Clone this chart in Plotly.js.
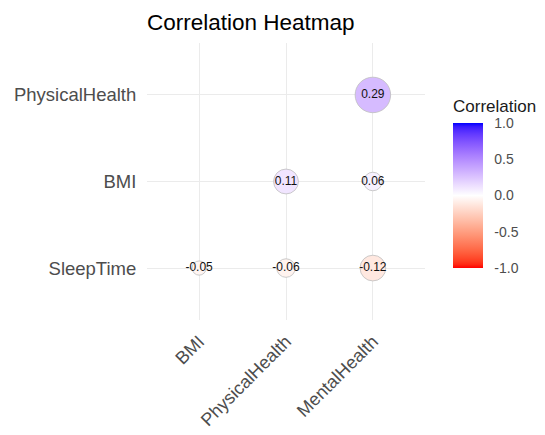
<!DOCTYPE html>
<html>
<head>
<meta charset="utf-8">
<script src="https://cdn.plot.ly/plotly-3.0.1.min.js"></script>
<style>html,body{margin:0;padding:0;background:#fff;}#chart{width:545px;height:435px;}</style>
</head>
<body>
<div id="chart"></div>
<script>
// Data
const xCategories = ['BMI', 'PhysicalHealth', 'MentalHealth'];
const yCategories = ['SleepTime', 'BMI', 'PhysicalHealth'];
const pointX = ['BMI', 'PhysicalHealth', 'MentalHealth', 'PhysicalHealth', 'MentalHealth', 'MentalHealth'];
const pointY = ['SleepTime', 'SleepTime', 'SleepTime', 'BMI', 'BMI', 'PhysicalHealth'];
const corrValues = [-0.05, -0.06, -0.12, 0.11, 0.06, 0.29];
const colorbarTicks = [-1, -0.5, 0, 0.5, 1];
const colorbarTickText = ['-1.0', '-0.5', '0.0', '0.5', '1.0'];
const legendTitle = 'Correlation';

// Lab interpolation helpers (to mimic ggplot's gradient2)
function srgbToLin(c){c/=255;return c<=0.04045?c/12.92:Math.pow((c+0.055)/1.055,2.4);}
function linToSrgb(c){c=Math.max(0,Math.min(1,c));return Math.round(255*(c<=0.0031308?12.92*c:1.055*Math.pow(c,1/2.4)-0.055));}
function rgb2lab(rgb){
  const r=srgbToLin(rgb[0]),g=srgbToLin(rgb[1]),b=srgbToLin(rgb[2]);
  let X=(0.4124*r+0.3576*g+0.1805*b)/0.95047,Y=(0.2126*r+0.7152*g+0.0722*b),Z=(0.0193*r+0.1192*g+0.9505*b)/1.08883;
  const f=t=>t>0.008856?Math.cbrt(t):7.787*t+16/116;
  const fx=f(X),fy=f(Y),fz=f(Z);
  return [116*fy-16,500*(fx-fy),200*(fy-fz)];
}
function lab2rgb(lab){
  const fy=(lab[0]+16)/116,fx=fy+lab[1]/500,fz=fy-lab[2]/200;
  const fi=t=>t*t*t>0.008856?t*t*t:(t-16/116)/7.787;
  const X=fi(fx)*0.95047,Y=fi(fy),Z=fi(fz)*1.08883;
  const r=3.2406*X-1.5372*Y-0.4986*Z,g=-0.9689*X+1.8758*Y+0.0415*Z,b=0.0557*X-0.2040*Y+1.0570*Z;
  return 'rgb('+linToSrgb(r)+','+linToSrgb(g)+','+linToSrgb(b)+')';
}
const labRed=rgb2lab([255,0,0]),labWhite=rgb2lab([255,255,255]),labBlue=rgb2lab([0,0,255]);
const colorscale=[];
const N=40;
for(let i=0;i<=N;i++){
  const v=-1+2*i/N;
  let a,b,t;
  if(v<0){a=labWhite;b=labRed;t=-v;}else{a=labWhite;b=labBlue;t=v;}
  const lab=[a[0]+(b[0]-a[0])*t,a[1]+(b[1]-a[1])*t,a[2]+(b[2]-a[2])*t];
  colorscale.push([i/N,lab2rgb(lab)]);
}

// size mapping like ggplot scale_size(range=c(4,10)) on |corr|
const absVals=corrValues.map(Math.abs);
const amin=Math.min(...absVals),amax=Math.max(...absVals);
const sizes=absVals.map(a=>3.55*(4+6*Math.sqrt((a-amin)/(amax-amin))));

const FONT='Liberation Sans, Arial, sans-serif';

const trace={
  type:'scatter',
  mode:'markers+text',
  x:pointX,
  y:pointY,
  text:corrValues.map(v=>v.toFixed(2)),
  textposition:'middle center',
  textfont:{family:FONT,size:12,color:'#111111'},
  hoverinfo:'skip',
  marker:{
    size:sizes,
    color:corrValues,
    colorscale:colorscale,
    cmin:-1,cmax:1,
    line:{color:'rgba(190,190,190,0.8)',width:1},
    opacity:1,
    showscale:true,
    colorbar:{
      x:1.101,xanchor:'left',xref:'paper',
      y:0.188,yanchor:'bottom',
      len:145,lenmode:'pixels',
      thickness:30,
      outlinewidth:0,
      tickvals:colorbarTicks,
      ticktext:colorbarTickText,
      ticks:'outside',ticklen:9,tickcolor:'rgba(0,0,0,0)',
      tickfont:{family:FONT,size:14,color:'#4d4d4d'},
      xpad:0,ypad:0
    }
  },
  showlegend:false
};

const layout={
  width:545,height:435,
  margin:{l:147,r:120,t:43,b:115,autoexpand:false},
  paper_bgcolor:'#ffffff',plot_bgcolor:'#ffffff',
  font:{family:FONT},
  title:{text:'Correlation Heatmap',x:0,xref:'paper',xanchor:'left',y:0.95,yref:'container',yanchor:'middle',
         font:{family:FONT,size:22.5,color:'#000000'}},
  annotations:[{
    text:legendTitle,xref:'paper',yref:'paper',x:1.094,y:0.772,xanchor:'left',yanchor:'middle',
    showarrow:false,font:{family:FONT,size:17,color:'#1a1a1a'}
  }],
  xaxis:{
    type:'category',categoryorder:'array',categoryarray:xCategories,
    range:[-0.6,2.6],
    showgrid:true,gridcolor:'#ebebeb',gridwidth:1,zeroline:false,showline:false,
    ticks:'outside',ticklen:3,tickcolor:'rgba(0,0,0,0)',
    tickangle:-45,
    tickfont:{family:FONT,size:18,color:'#4d4d4d'},
    fixedrange:true
  },
  yaxis:{
    type:'category',categoryorder:'array',categoryarray:yCategories,
    range:[-0.6,2.6],
    showgrid:true,gridcolor:'#ebebeb',gridwidth:1,zeroline:false,showline:false,
    ticks:'outside',ticklen:6,tickcolor:'rgba(0,0,0,0)',
    tickfont:{family:FONT,size:18.5,color:'#4d4d4d'},
    fixedrange:true
  }
};

Plotly.newPlot('chart',[trace],layout,{displayModeBar:false,staticPlot:true});
</script>
</body>
</html>
